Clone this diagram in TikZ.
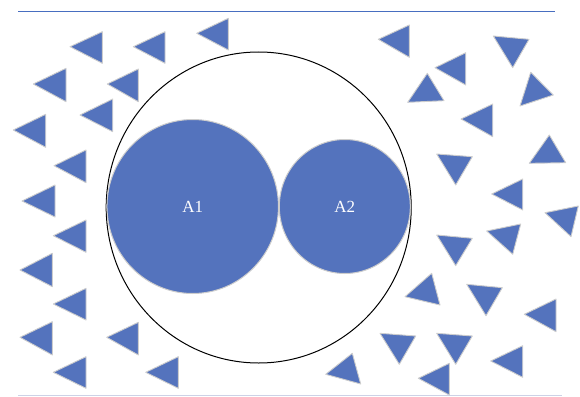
\documentclass[tikz,border=0pt]{standalone}
\usepackage{fontspec}
\setmainfont{Liberation Serif}
\usetikzlibrary{shapes.geometric}
\definecolor{shapeblue}{RGB}{84,115,189}
\definecolor{rimgray}{RGB}{205,205,205}
\definecolor{topline}{RGB}{72,110,192}
\definecolor{botline}{RGB}{205,210,230}
\tikzset{
  tri/.style={fill=shapeblue, draw=rimgray, line width=0.9pt, line join=round},
  blob/.style={ellipse, fill=shapeblue, draw=rimgray, line width=1pt, inner sep=0pt,
    text=white, font=\fontsize{17}{20}\selectfont},
  ring/.style={ellipse, draw=black, line width=1pt, inner sep=0pt},
}
\begin{document}
\begin{tikzpicture}[x=1pt,y=-1pt]
\useasboundingbox (0,0) rectangle (580,396);
% rules
\draw[topline, line width=1pt] (18,11.7) -- (555,11.7);
\draw[botline, line width=1pt] (18,395.3) -- (562,395.3);
% outer ring
\node[ring, minimum width=305pt, minimum height=311pt] (outer) at (258.7,207.5) {};
% inner discs
\node[blob, minimum width=171.5pt, minimum height=174pt] (a1) at (192.7,206.5) {A1};
\node[blob, minimum width=131pt, minimum height=134pt] (a2) at (344.8,206.5) {A2};
% left triangles
\foreach \tx/\ty/\rx/\tp/\bt in {
  70/46.7/102.3/31.7/63.3,
  133.3/46.7/165/31.7/63.3,
  196.7/33.3/228.3/18.3/50,
  33.3/84/66/68.3/101.7,
  107.3/84/138.3/69/101.7,
  80/115/112.7/99/131.7,
  13.3/130/45.7/114.3/147.3,
  54/165.7/86/150/182.7,
  22/201/55/185/217,
  53.3/235.7/86/220/252.3,
  20/270/52.3/253.3/286.7,
  53.3/304/86/288.3/320,
  20/337.3/52.3/321.7/355,
  106.7/337.3/138.3/322.3/355,
  53.3/372.3/86/356.7/388.3,
  145.7/372.3/178.3/356.7/388.3,
  378.3/39.3/409.3/25/57.3,
  435/67.7/465.7/52.7/85,
  461/119/492.7/104/136.7,
  491.7/194/522.7/179/210,
  524.3/314.3/556/299/331.7,
  490.7/361/522.7/345.7/377.3,
  418.3/378.3/449.3/363.3/395}
  \draw[tri] (\tx,\ty) -- (\rx,\tp) -- (\rx,\bt) -- cycle;
% other orientations
\foreach \ax/\ay/\bx/\by/\cx/\cy in {
  493.3/36/529/39.3/512.7/67.7,
  427.3/73.3/407.7/102.3/444/100.7,
  530.7/72.3/520/106/553.3/95,
  436.7/154/472.3/156.7/455.7/185,
  549.3/135/529.3/163.3/565.7/162.7,
  545/212.7/578.3/206/571/236.7,
  486.7/231/520.7/224/512.7/254.3,
  436.7/235/472.3/238.3/455.7/265.7,
  405/296.7/431.7/273.3/440/305,
  466.7/284.3/502.3/287.7/486/315.7,
  380/333.3/415.7/336/399.3/364.3,
  436.7/333.3/472.3/336/455.7/364.3,
  325.7/374.3/352.3/353.3/360.7/384}
  \draw[tri] (\ax,\ay) -- (\bx,\by) -- (\cx,\cy) -- cycle;
\end{tikzpicture}
\end{document}
